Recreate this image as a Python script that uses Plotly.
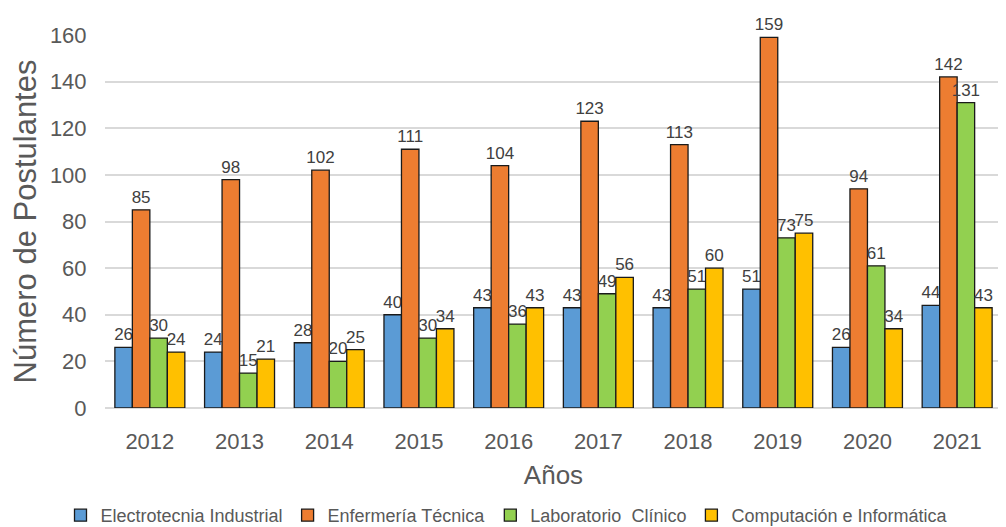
import plotly.graph_objects as go

years = ["2012", "2013", "2014", "2015", "2016", "2017", "2018", "2019", "2020", "2021"]
electrotecnia = [26, 24, 28, 40, 43, 43, 43, 51, 26, 44]
enfermeria = [85, 98, 102, 111, 104, 123, 113, 159, 94, 142]
laboratorio = [30, 15, 20, 30, 36, 49, 51, 73, 61, 131]
computacion = [24, 21, 25, 34, 43, 56, 60, 75, 34, 43]

series_names = ["Electrotecnia Industrial", "Enfermería Técnica", "Laboratorio  Clínico", "Computación e Informática"]
series_values = [electrotecnia, enfermeria, laboratorio, computacion]
colors = ["#5B9BD5", "#ED7D31", "#92D050", "#FFC000"]

FONT = "Liberation Sans, Arial"
GREY = "#595959"

fig = go.Figure()
for name, vals, col in zip(series_names, series_values, colors):
    fig.add_trace(go.Bar(
        x=years, y=vals, name=name,
        marker=dict(color=col, line=dict(color="#1a1a1a", width=1.3)),
        text=[str(v) for v in vals], textposition="outside",
        textfont=dict(size=17, color="#404040", family=FONT),
        cliponaxis=False,
    ))

fig.update_layout(
    barmode="group", bargap=0.22, bargroupgap=0.0,
    width=998, height=519,
    margin=dict(l=97, r=4, t=27, b=119),
    paper_bgcolor="white", plot_bgcolor="white",
    font=dict(family=FONT, color=GREY),
    uniformtext=dict(minsize=17, mode="show"),
    xaxis=dict(
        title=dict(text="Años", font=dict(size=26, color=GREY), standoff=12),
        tickfont=dict(size=22, color=GREY),
        showline=False, ticks="", range=[-0.5, 9.5],
        ticklabelstandoff=18, automargin=False,
    ),
    yaxis=dict(
        title=dict(text="Número de Postulantes", font=dict(size=31, color=GREY), standoff=12),
        range=[0, 160], dtick=20,
        tickfont=dict(size=22, color=GREY),
        showgrid=True, gridcolor="#D9D9D9", gridwidth=2,
        zeroline=True, zerolinecolor="#D9D9D9", zerolinewidth=2,
        ticks="outside", ticklen=13, tickcolor="rgba(0,0,0,0)", automargin=False,
    ),
    legend=dict(
        orientation="h",
        xref="container", x=0.5, xanchor="center",
        yref="container", y=0.0578, yanchor="top",
        font=dict(size=18, color=GREY),
        itemwidth=30, tracegroupgap=0,
    ),
)

fig.write_html("out.html")
